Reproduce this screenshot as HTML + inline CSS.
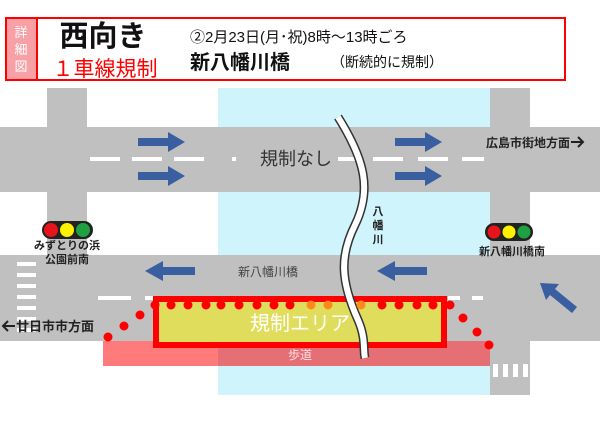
<!DOCTYPE html>
<html><head><meta charset="utf-8"><style>
body{margin:0;background:#fff;}
svg{display:block;}
text{font-family:"Liberation Sans","Noto Sans CJK JP",sans-serif;}
</style></head><body>
<svg width="600" height="423" viewBox="0 0 600 423">
<rect x="218" y="88" width="272" height="307" fill="#cff4fb"/>
<rect x="47" y="88" width="40" height="175" fill="#c0c0c0"/>
<rect x="490" y="88" width="40" height="307" fill="#c0c0c0"/>
<rect x="0" y="127" width="600" height="65" fill="#c0c0c0"/>
<rect x="0" y="255" width="600" height="86" fill="#c0c0c0"/>
<g fill="#fff">
<rect x="90" y="157" width="30" height="4"/><rect x="132" y="157" width="30" height="4"/><rect x="174" y="157" width="30" height="4"/><rect x="232" y="157" width="4" height="4"/>
<rect x="338" y="157" width="22" height="4"/><rect x="373" y="157" width="30" height="4"/><rect x="418" y="157" width="30" height="4"/><rect x="462" y="157" width="22" height="4"/>
<rect x="98" y="296" width="33" height="4"/><rect x="145" y="296" width="10" height="4"/><rect x="448" y="296" width="12" height="4"/><rect x="472" y="296" width="11" height="4"/>
</g>
<g fill="#fff">
<rect x="17" y="262" width="19" height="4"/><rect x="17" y="273" width="19" height="4"/><rect x="17" y="284" width="19" height="4"/><rect x="17" y="295" width="19" height="4"/><rect x="17" y="306" width="19" height="4"/><rect x="17" y="317" width="19" height="4"/><rect x="17" y="328" width="19" height="4"/>
<rect x="493" y="364" width="5" height="13"/><rect x="503" y="364" width="5" height="13"/><rect x="513" y="364" width="5" height="13"/><rect x="523" y="364" width="5" height="13"/>
</g>
<rect x="103" y="341" width="115" height="25" fill="#ff7a7a"/>
<rect x="218" y="341" width="272" height="25" fill="#e66f76"/>
<text x="300" y="359" font-size="12" fill="#fbe2e2" text-anchor="middle">歩道</text>
<rect x="156" y="299" width="288" height="46" fill="#e0dd5c" stroke="#ff0000" stroke-width="6"/>
<text x="300" y="330" font-size="20" fill="#fff" text-anchor="middle">規制エリア</text>
<path d="M338,117 C365,160 372,190 355,225 C340,255 340,280 358,320 C366,338 363,350 365,358" fill="none" stroke="#333" stroke-width="9"/>
<path d="M338,117 C365,160 372,190 355,225 C340,255 340,280 358,320 C366,338 363,350 365,358" fill="none" stroke="#fff" stroke-width="6"/>
<g fill="#ff0000">
<circle cx="155" cy="305" r="4.5"/><circle cx="171" cy="305" r="4.5"/><circle cx="188" cy="305" r="4.5"/><circle cx="206" cy="305" r="4.5"/><circle cx="221" cy="305" r="4.5"/><circle cx="239" cy="305" r="4.5"/><circle cx="257" cy="305" r="4.5"/><circle cx="274" cy="305" r="4.5"/><circle cx="290" cy="305" r="4.5"/>
<circle cx="382" cy="305" r="4.5"/><circle cx="399" cy="305" r="4.5"/><circle cx="417" cy="305" r="4.5"/><circle cx="433" cy="305" r="4.5"/><circle cx="450" cy="305" r="4.5"/>
<circle cx="140" cy="315" r="4.5"/><circle cx="124" cy="326" r="4.5"/><circle cx="108" cy="337" r="4.5"/>
<circle cx="463" cy="318" r="4.5"/><circle cx="477" cy="332" r="4.5"/><circle cx="489" cy="345" r="4.5"/>
</g>
<g fill="#ff8c1a"><circle cx="311" cy="305" r="4.5"/><circle cx="328" cy="305" r="4.5"/><circle cx="361" cy="305" r="4.5"/></g>
<g fill="#3a5fa0">
<polygon points="138,138 168,138 168,132 185,142 168,152 168,146 138,146"/>
<polygon points="138,172 168,172 168,166 185,176 168,186 168,180 138,180"/>
<polygon points="395,138 425,138 425,132 442,142 425,152 425,146 395,146"/>
<polygon points="395,172 425,172 425,166 442,176 425,186 425,180 395,180"/>
<polygon points="195,267 163,267 163,261 145,271 163,281 163,275 195,275"/>
<polygon points="427,267 395,267 395,261 377,271 395,281 395,275 427,275"/>
<polygon points="577,307 555,289 559,284 540,283 546,300 550,295 572,313"/>
</g>
<rect x="42" y="221" width="51" height="18" rx="9" fill="#222"/>
<circle cx="51" cy="230" r="7" fill="#e8141b"/><circle cx="67" cy="230" r="7" fill="#fff200"/><circle cx="83" cy="230" r="7" fill="#1fa043"/>
<rect x="485" y="223" width="48" height="18" rx="9" fill="#222"/>
<circle cx="494" cy="232" r="6.5" fill="#e8141b"/><circle cx="509" cy="232" r="6.5" fill="#fff200"/><circle cx="524" cy="232" r="6.5" fill="#1fa043"/>
<g font-weight="bold" fill="#222">
<text x="67" y="249" font-size="11" text-anchor="middle">みずとりの浜</text>
<text x="67" y="263" font-size="11" text-anchor="middle">公園前南</text>
<text x="512" y="255" font-size="11" text-anchor="middle">新八幡川橋南</text>
<text x="16" y="331" font-size="13">廿日市市方面</text>
<text x="570" y="147" font-size="12" text-anchor="end">広島市街地方面</text>
<text x="378" y="215" font-size="11" text-anchor="middle">八</text>
<text x="378" y="229" font-size="11" text-anchor="middle">幡</text>
<text x="378" y="243" font-size="11" text-anchor="middle">川</text>
</g>
<g stroke="#222" stroke-width="2" fill="none">
<path d="M3,326 H15 M8,321 L3,326 L8,331"/>
<path d="M571,142 H583 M578,137 L583,142 L578,147"/>
</g>
<text x="296" y="165" font-size="18" fill="#333" text-anchor="middle">規制なし</text>
<text x="268" y="276" font-size="12" fill="#444" text-anchor="middle">新八幡川橋</text>
<rect x="6" y="18" width="559" height="62" fill="#fff" stroke="#ff0000" stroke-width="2"/>
<rect x="6" y="18" width="31" height="62" fill="#f7a0a6" stroke="#ff0000" stroke-width="2"/>
<g fill="#fff" font-size="13" text-anchor="middle"><text x="21" y="37">詳</text><text x="21" y="54">細</text><text x="21" y="71">図</text></g>
<text x="103" y="46" font-size="29" font-weight="bold" fill="#111" text-anchor="middle">西向き</text>
<text x="105" y="76" font-size="21" fill="#ff0000" text-anchor="middle">１車線規制</text>
<text x="190" y="42" font-size="15" fill="#111">②2月23日(月･祝)8時～13時ごろ</text>
<text x="190" y="69" font-size="20" font-weight="bold" fill="#111">新八幡川橋</text>
<text x="331" y="67" font-size="14" fill="#111">（断続的に規制）</text>
</svg>
</body></html>
